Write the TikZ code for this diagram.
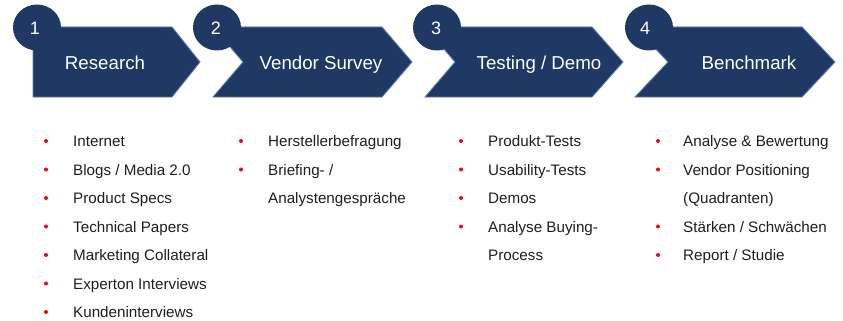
\documentclass[tikz,border=0pt]{standalone}
\usepackage{fontspec}
\setmainfont{Liberation Sans}
\begin{document}
\begin{tikzpicture}[x=1pt,y=-1pt,
  chev/.style={fill=navy,draw=edgeblue,line width=0.9pt,line join=miter},
  numcirc/.style={fill=navy,draw=none},
  numtxt/.style={text=white,font=\fontsize{18}{18}\selectfont,anchor=base,inner sep=0},
  titletxt/.style={text=white,font=\fontsize{18.7}{18.7}\selectfont,anchor=base,inner sep=0},
  itemtxt/.style={text=itemgray,font=\fontsize{15.2}{15.2}\selectfont,anchor=base west,inner sep=0},
  dot/.style={fill=red,draw=none}]
\definecolor{navy}{RGB}{31,56,100}
\definecolor{edgeblue}{RGB}{90,125,175}
\definecolor{itemgray}{RGB}{30,30,30}
\useasboundingbox (0,0) rectangle (843,321);
% chevrons
\draw[chev] (33,27) -- (172,27) -- (200,62) -- (172,97) -- (33,97) -- cycle;
\draw[chev] (213,27) -- (382,27) -- (412,62) -- (382,97) -- (213,97) -- (243,62) -- cycle;
\draw[chev] (425,27) -- (592,27) -- (623,62) -- (592,97) -- (425,97) -- (455,62) -- cycle;
\draw[chev] (635,27) -- (802,27) -- (835,62) -- (802,97) -- (635,97) -- (668,62) -- cycle;
% circles
\fill[numcirc] (37,27.5) ellipse [x radius=24,y radius=23];
\fill[numcirc] (217,27.5) ellipse [x radius=24,y radius=23];
\fill[numcirc] (437,27.5) ellipse [x radius=24,y radius=23];
\fill[numcirc] (649,27.5) ellipse [x radius=24,y radius=23];
\node[numtxt] (n1) at (35,35) {1};
\node[numtxt] (n2) at (216,35) {2};
\node[numtxt] (n3) at (436,35) {3};
\node[numtxt] (n4) at (645,35) {4};
% titles
\node[titletxt] (t1) at (105,69.5) {Research};
\node[titletxt] (t2) at (321,69.5) {Vendor Survey};
\node[titletxt] (t3) at (539,69.5) {Testing / Demo};
\node[titletxt] (t4) at (749,69.5) {Benchmark};
% column 1
\foreach \y in {141,169.5,198,226.5,255,283.5,312} \fill[dot] (46,\y) circle (2);
\node[itemtxt] (a1) at (73,146.5) {Internet};
\node[itemtxt] (a2) at (73,175) {Blogs / Media 2.0};
\node[itemtxt] (a3) at (73,203.5) {Product Specs};
\node[itemtxt] (a4) at (73,232) {Technical Papers};
\node[itemtxt] (a5) at (73,260.5) {Marketing Collateral};
\node[itemtxt] (a6) at (73,289) {Experton Interviews};
\node[itemtxt] (a7) at (73,317.5) {Kundeninterviews};
% column 2
\foreach \y in {141,169.5} \fill[dot] (241,\y) circle (2);
\node[itemtxt] (b1) at (268,146.5) {Herstellerbefragung};
\node[itemtxt] (b2) at (268,175) {Briefing- /};
\node[itemtxt] (b3) at (268,203.5) {Analystengespräche};
% column 3
\foreach \y in {141,169.5,198,226.5} \fill[dot] (461,\y) circle (2);
\node[itemtxt] (c1) at (488,146.5) {Produkt-Tests};
\node[itemtxt] (c2) at (488,175) {Usability-Tests};
\node[itemtxt] (c3) at (488,203.5) {Demos};
\node[itemtxt] (c4) at (488,232) {Analyse Buying-};
\node[itemtxt] (c5) at (488,260.5) {Process};
% column 4
\foreach \y in {141,169.5,226.5,255} \fill[dot] (658,\y) circle (2);
\node[itemtxt] (d1) at (683,146.5) {Analyse \& Bewertung};
\node[itemtxt] (d2) at (683,175) {Vendor Positioning};
\node[itemtxt] (d3) at (683,203.5) {(Quadranten)};
\node[itemtxt] (d4) at (683,232) {Stärken / Schwächen};
\node[itemtxt] (d5) at (683,260.5) {Report / Studie};
\end{tikzpicture}
\end{document}
